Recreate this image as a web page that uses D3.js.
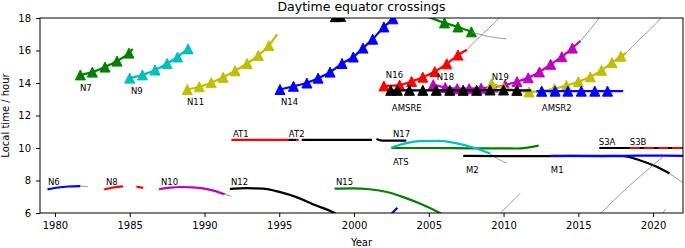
<!DOCTYPE html>
<html>
<head>
<meta charset="utf-8">
<script src="https://cdn.jsdelivr.net/npm/d3@7"></script>
<style>
  body { margin: 0; background: #fff; }
  text { font-family: "DejaVu Sans", sans-serif; }
</style>
</head>
<body>
<div id="container"></div>
<script>
let w = 685;
let h = 248;
let margin = {top: 18, right: 2, bottom: 35, left: 40};

// axis setup
const xDomain = [1979, 2022];
const yDomain = [6, 18];
const xTicks = [1980, 1985, 1990, 1995, 2000, 2005, 2010, 2015, 2020];
const yTicks = [6, 8, 10, 12, 14, 16, 18];

// daytime ascending nodes [year, local hour]
const n7 = [[1981.7, 14.5], [1982.5, 14.67], [1983.35, 14.98], [1984.15, 15.35], [1984.95, 15.84], [1985.2, 16.1]];
const n9 = [[1985.0, 14.3], [1985.85, 14.5], [1986.7, 14.8], [1987.5, 15.2], [1988.2, 15.6], [1988.9, 16.1], [1989.0, 16.15]];
const n11 = [[1988.85, 13.6], [1989.65, 13.77], [1990.45, 14.02], [1991.25, 14.35], [1992.05, 14.75], [1992.85, 15.2], [1993.6, 15.7], [1994.3, 16.3], [1994.85, 17.0]];
const n14 = [[1995.05, 13.6], [1995.95, 13.8], [1996.85, 14.0], [1997.6, 14.3], [1998.4, 14.67], [1999.2, 15.2], [1999.95, 15.6], [2000.6, 16.15], [2001.25, 16.7], [2002.0, 17.45], [2002.6, 17.95], [2002.9, 18.3]];
const topBlack = [[1998.75, 18.08], [1999.1, 18.1], [1999.3, 18.12]];
const topGreen = [[2005.0, 18.05], [2006.05, 17.7], [2006.95, 17.45], [2007.85, 17.15]];
const topGreenDrift = [[2007.85, 17.15], [2008.6, 16.95], [2009.4, 16.8], [2010.2, 16.72]];
const n16 = [[2002.0, 13.82], [2003.05, 13.87], [2003.85, 14.1], [2004.6, 14.36], [2005.4, 14.7], [2006.2, 15.18], [2006.95, 15.72], [2007.55, 16.05]];
const n16Drift = [[2007.55, 16.05], [2008.3, 16.75], [2009.0, 17.35], [2009.75, 18.05]];
const n18 = [[2005.3, 13.9], [2006.1, 13.72], [2006.9, 13.65], [2007.7, 13.65], [2008.5, 13.68], [2009.3, 13.75], [2010.1, 13.88], [2010.9, 14.08], [2011.65, 14.32], [2012.4, 14.68], [2013.15, 15.15], [2013.9, 15.62], [2014.6, 16.15], [2015.15, 16.6]];
const n18Drift = [[2015.15, 16.6], [2015.8, 17.3], [2016.45, 18.05]];
const n19 = [[2009.2, 13.95], [2010.0, 13.72], [2010.85, 13.55], [2011.7, 13.45], [2012.55, 13.5], [2013.4, 13.65], [2014.2, 13.85], [2015.0, 14.08], [2015.8, 14.38], [2016.55, 14.78], [2017.25, 15.25], [2017.85, 15.65], [2018.2, 15.85]];
const n19Drift = [[2018.2, 15.85], [2019.0, 16.6], [2019.8, 17.3], [2020.6, 18.05]];
const amsre = [[2002.4, 13.55], [2002.45, 13.55], [2002.9, 13.55], [2003.7, 13.55], [2004.6, 13.55], [2005.5, 13.55], [2006.4, 13.55], [2007.3, 13.55], [2008.2, 13.55], [2009.1, 13.57], [2010.0, 13.57], [2010.9, 13.55], [2011.85, 13.55]];
const amsr2 = [[2012.2, 13.5], [2012.55, 13.5], [2013.45, 13.5], [2014.3, 13.5], [2015.2, 13.5], [2016.1, 13.5], [2016.95, 13.5], [2018.0, 13.5]];

// morning / mid-morning orbits
const n6 = [[1979.5, 7.45], [1980.2, 7.57], [1980.9, 7.63], [1981.7, 7.65]];
const n6Drift = [[1981.7, 7.65], [1982.2, 7.63]];
const n8a = [[1983.3, 7.45], [1983.9, 7.57], [1984.55, 7.64]];
const n8b = [[1985.45, 7.62], [1985.9, 7.55]];
const n10 = [[1986.95, 7.46], [1987.7, 7.56], [1988.4, 7.6], [1989.2, 7.58], [1989.9, 7.52], [1990.6, 7.38], [1991.35, 7.15]];
const n10Drift = [[1991.35, 7.15], [1991.8, 7.02]];
const n12 = [[1991.7, 7.48], [1992.8, 7.53], [1993.9, 7.5], [1995.0, 7.3], [1996.2, 6.96], [1997.25, 6.54], [1998.7, 6.0], [1999.0, 5.85]];
const n15 = [[1998.7, 7.5], [1999.9, 7.52], [2001.05, 7.46], [2002.2, 7.29], [2003.25, 6.99], [2004.4, 6.58], [2005.75, 6.0], [2006.0, 5.88]];
const blueTick = [[2002.45, 5.9], [2002.9, 6.32]];
const at1 = [[1991.8, 10.5], [1995.6, 10.5]];
const at1b = [[1996.12, 10.5], [1996.3, 10.5]];
const at2a = [[1995.6, 10.5], [1996.12, 10.5]];
const at2b = [[1996.5, 10.5], [2001.2, 10.5]];
const n17 = [[2001.5, 10.55], [2001.9, 10.45], [2003.5, 10.45]];
const atsCyan = [[2002.5, 10.03], [2003.5, 10.3], [2004.4, 10.42], [2005.7, 10.44], [2006.9, 10.28], [2007.95, 10.03], [2009.1, 9.66]];
const atsCyanDrift = [[2009.1, 9.66], [2009.4, 9.45], [2010.2, 9.08]];
const atsGreen = [[2002.5, 10.0], [2005.0, 10.0], [2008.0, 9.98], [2010.9, 9.97], [2012.35, 10.15]];
const m2 = [[2007.3, 9.52], [2010.0, 9.5], [2013.0, 9.5], [2016.0, 9.52], [2018.0, 9.5], [2019.1, 9.25], [2020.25, 8.84], [2021.1, 8.43]];
const m2Drift = [[2021.1, 8.43], [2022.1, 7.8]];
const m1 = [[2013.1, 9.52], [2016.0, 9.5], [2019.0, 9.53], [2022.0, 9.52]];
const s3a = [[2016.4, 10.0], [2022.0, 10.0]];
const s3b = [[2018.45, 10.0], [2022.0, 10.0]];
const greyLow1 = [[2009.8, 6.0], [2011.1, 7.2]];
const greyLow2 = [[2016.5, 5.98], [2017.4, 6.8], [2018.2, 7.5], [2019.5, 8.55], [2020.7, 9.5]];
const greyLow3 = [[2020.6, 5.95], [2020.85, 6.23]];

const labels = [
    ["N7", 1981.67, 13.5], ["N9", 1985.08, 13.32], ["N11", 1988.83, 12.64], ["N14", 1995.11, 12.64],
    ["N16", 2002.13, 14.3], ["AMSRE", 2002.53, 12.27], ["N18", 2005.54, 14.18], ["N19", 2009.21, 14.18],
    ["AMSR2", 2012.56, 12.27], ["AT1", 1991.9, 10.67], ["AT2", 1995.64, 10.67], ["N17", 2002.6, 10.67],
    ["ATS", 2002.6, 8.94], ["N6", 1979.53, 7.71], ["N8", 1983.41, 7.71], ["N10", 1987.09, 7.71],
    ["N12", 1991.77, 7.71], ["N15", 1998.79, 7.71], ["M2", 2007.48, 8.45], ["M1", 2013.16, 8.45],
    ["S3A", 2016.37, 10.17], ["S3B", 2018.44, 10.17]
];

const grey = "#808080";
// draw order follows the original plotting order
let series = [
    {d: n6, c: "#0000ff"}, {d: n6Drift, c: grey, thin: true},
    {d: n7, c: "#008000", m: [0, 5]},
    {d: n8a, c: "#ff0000"}, {d: n8b, c: "#ff0000"},
    {d: n9, c: "#00bfbf", m: [0, 6]},
    {d: n10, c: "#bf00bf"}, {d: n10Drift, c: grey, thin: true},
    {d: n11, c: "#bfbf00", m: [0, 8]},
    {d: n12, c: "#000000"},
    {d: at1, c: "#ff0000"}, {d: at2a, c: "#000000"}, {d: at1b, c: "#ff0000"}, {d: at2b, c: "#000000"},
    {d: n14, c: "#0000ff", m: [0, 11]},
    {d: topBlack, c: "#000000", m: [0, 2]},
    {d: n15, c: "#008000"},
    {d: topGreen, c: "#008000", m: [1, 4]}, {d: topGreenDrift, c: grey, thin: true},
    {d: n16, c: "#ff0000", m: [0, 7]}, {d: n16Drift, c: grey, thin: true},
    {d: n17, c: "#000000"}, {d: blueTick, c: "#0000ff"},
    {d: n18, c: "#bf00bf", m: [0, 13]}, {d: n18Drift, c: grey, thin: true},
    {d: atsGreen, c: "#008000"},
    {d: atsCyan, c: "#00bfbf"}, {d: atsCyanDrift, c: grey, thin: true},
    {d: m2, c: "#000000"}, {d: m2Drift, c: grey, thin: true},
    {d: n19, c: "#bfbf00", m: [0, 12]}, {d: n19Drift, c: grey, thin: true},
    {d: amsre, c: "#000000", m: [1, 12]},
    {d: m1, c: "#0000ff"},
    {d: amsr2, c: "#0000ff", m: [1, 7]},
    {d: s3a, c: "#000000"}, {d: s3b, c: "#ff0000", dash: "10,4"},
    {d: greyLow1, c: grey, thin: true}, {d: greyLow2, c: grey, thin: true}, {d: greyLow3, c: grey, thin: true}
];

let iw = w - margin.left - margin.right;
let ih = h - margin.top - margin.bottom;

let x = d3.scaleLinear().domain(xDomain).range([0, iw]);
let y = d3.scaleLinear().domain(yDomain).range([ih, 0]);

let viz = d3.select("#container").append("svg")
    .attr("width", w)
    .attr("height", h)
    .style("display", "block");

viz.append("defs").append("clipPath").attr("id", "plotclip")
    .append("rect").attr("width", iw).attr("height", ih);

let g = viz.append("g").attr("transform", `translate(${margin.left},${margin.top})`);
let plot = g.append("g").attr("clip-path", "url(#plotclip)");

let line = d3.line()
    .x(d => x(d[0]))
    .y(d => y(d[1]))
    .curve(d3.curveMonotoneX);

function tri(s) {
    return `M0,${-s / 2}L${s / 2},${s / 2}L${-s / 2},${s / 2}Z`;
}

series.forEach(s => {
    plot.append("path")
        .attr("d", line(s.d))
        .attr("fill", "none")
        .attr("stroke", s.c)
        .attr("stroke-width", s.thin ? 0.8 : 2.2)
        .attr("stroke-dasharray", s.dash || null);
    if (s.m) {
        plot.selectAll(null).data(s.d.slice(s.m[0], s.m[1])).enter()
            .append("path")
            .attr("d", tri(10))
            .attr("transform", d => `translate(${x(d[0])},${y(d[1])})`)
            .attr("fill", s.c)
            .attr("stroke", s.c)
            .attr("stroke-width", 1);
    }
});

// labels
g.selectAll(".lbl").data(labels).enter()
    .append("text")
    .attr("class", "lbl")
    .attr("x", d => x(d[1]))
    .attr("y", d => y(d[2]))
    .attr("font-size", "8.5px")
    .attr("fill", "#000")
    .text(d => d[0]);

// axes
let xAxis = g.append("g").attr("transform", `translate(0,${ih})`)
    .call(d3.axisBottom(x).tickValues(xTicks).tickFormat(d3.format("d")).tickSize(4).tickSizeOuter(0).tickPadding(5));
let yAxis = g.append("g")
    .call(d3.axisLeft(y).tickValues(yTicks).tickFormat(d3.format("d")).tickSize(4).tickSizeOuter(0).tickPadding(5));
[xAxis, yAxis].forEach(a => {
    a.selectAll("text").attr("font-size", "10px").attr("font-family", "DejaVu Sans").attr("fill", "#000");
    a.selectAll("line").attr("stroke", "#000");
    a.select(".domain").remove();
});

g.append("rect")
    .attr("width", iw)
    .attr("height", ih)
    .attr("fill", "none")
    .attr("stroke", "#000")
    .attr("stroke-width", 1);

viz.append("text")
    .attr("x", margin.left + iw / 2)
    .attr("y", 10.5)
    .attr("text-anchor", "middle")
    .attr("font-size", "12.5px")
    .text("Daytime equator crossings");

viz.append("text")
    .attr("x", margin.left + iw / 2)
    .attr("y", 246)
    .attr("text-anchor", "middle")
    .attr("font-size", "10px")
    .text("Year");

viz.append("text")
    .attr("transform", `translate(9,${margin.top + ih / 2}) rotate(-90)`)
    .attr("text-anchor", "middle")
    .attr("font-size", "10px")
    .text("Local time / hour");
</script>
</body>
</html>
